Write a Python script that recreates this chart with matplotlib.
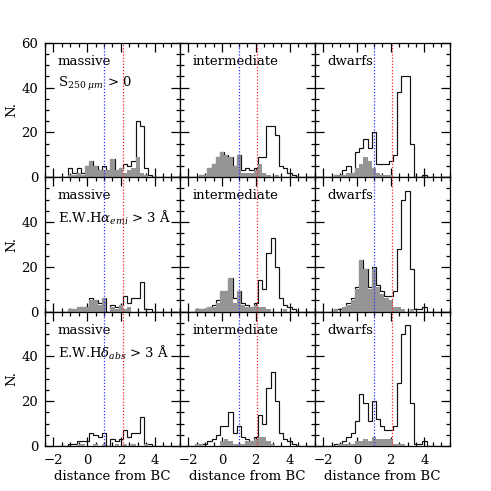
import numpy as np
import matplotlib
matplotlib.use("Agg")
import matplotlib.pyplot as plt
from matplotlib.ticker import MultipleLocator, FixedLocator

plt.rcParams['font.family'] = ['DejaVu Serif']
plt.rcParams['mathtext.fontset'] = 'dejavuserif'

# bin edges: width 0.25, starting at -1.875
bin_start = -1.875
bin_width = 0.25
n_bins = 27

# ---- row 1: S250 > 0 ----
open_mass_s250 = [0, 0, 0, 4, 2, 4, 2, 5, 7, 5, 3, 5, 3, 8, 3, 4, 6, 5, 7, 25, 23, 4, 1, 0, 0, 0, 0]
gray_mass_s250 = [0, 0, 0, 1, 1, 2, 1, 5, 7, 5, 3, 3, 3, 8, 3, 4, 2, 3, 4, 9, 2, 1, 0, 0, 0, 0, 0]
open_int_s250 = [0, 0, 1, 1, 4, 6, 9, 11, 10, 9, 5, 10, 3, 4, 3, 4, 9, 9, 23, 23, 19, 5, 4, 2, 1, 0, 0]
gray_int_s250 = [0, 0, 1, 1, 4, 6, 9, 11, 10, 9, 5, 10, 2, 2, 2, 3, 6, 2, 1, 0, 1, 0, 0, 0, 0, 0, 0]
open_dw_s250 = [0, 0, 1, 1, 3, 5, 2, 11, 13, 17, 13, 20, 6, 6, 6, 7, 10, 38, 45, 45, 15, 0, 0, 1, 0, 0, 0]
gray_dw_s250 = [0, 0, 1, 1, 1, 2, 2, 4, 6, 9, 7, 4, 2, 1, 1, 1, 0, 0, 0, 0, 0, 0, 0, 0, 0, 0, 0]

# ---- rows 2 and 3: full comparison sample (same open histograms) ----
open_mass = [0, 0, 0, 1, 1, 2, 2, 2, 6, 5, 4, 6, 0, 3, 2, 3, 7, 4, 6, 6, 13, 1, 1, 0, 0, 0, 0]
open_int = [0, 1, 1, 1, 2, 3, 5, 9, 9, 15, 6, 9, 4, 3, 2, 4, 14, 10, 26, 33, 20, 6, 3, 2, 1, 0, 0]
open_dw = [0, 0, 1, 1, 2, 4, 6, 11, 23, 19, 11, 20, 12, 9, 7, 7, 9, 28, 50, 54, 19, 1, 1, 2, 0, 0, 0]

# ---- row 2: EW Halpha emission > 3 A ----
gray_mass_ha = [0, 0, 0, 1, 1, 2, 2, 2, 5, 5, 3, 6, 0, 2, 1, 3, 1, 2, 0, 0, 0, 0, 0, 0, 0, 0, 0]
gray_int_ha = [0, 1, 1, 1, 2, 2, 4, 9, 9, 15, 4, 9, 3, 2, 2, 3, 2, 2, 1, 0, 0, 0, 1, 0, 0, 0, 0]
gray_dw_ha = [0, 0, 1, 0, 2, 3, 5, 10, 23, 19, 10, 19, 11, 8, 6, 5, 2, 2, 1, 0, 1, 0, 0, 0, 0, 0, 0]

# ---- row 3: EW Hdelta absorption > 3 A ----
gray_mass_hd = [0, 0, 0, 0, 0, 1, 1, 0, 0, 1, 0, 1, 0, 0, 1, 0, 1, 0, 1, 0, 0, 1, 0, 0, 0, 0, 0]
gray_int_hd = [0, 1, 1, 0, 0, 0, 0, 2, 3, 2, 1, 1, 1, 2, 2, 3, 4, 4, 2, 1, 0, 0, 0, 0, 0, 0, 0]
gray_dw_hd = [0, 0, 0, 1, 1, 1, 1, 2, 2, 3, 2, 4, 3, 3, 3, 3, 1, 1, 1, 0, 0, 0, 0, 0, 0, 0, 0]

col_names = ["massive", "intermediate", "dwarfs"]
row_conditions = [r"S$_{250\ \mu m}$ > 0",
                  r"E.W.H$\alpha_{emi}$ > 3 Å",
                  r"E.W.H$\delta_{abs}$ > 3 Å"]
blue_line = 1.0
red_line = 2.1
xtick_major = [-2, 0, 2, 4]
ytick_major = [0, 20, 40, 60]

open_data = [[open_mass_s250, open_int_s250, open_dw_s250],
             [open_mass, open_int, open_dw],
             [open_mass, open_int, open_dw]]
gray_data = [[gray_mass_s250, gray_int_s250, gray_dw_s250],
             [gray_mass_ha, gray_int_ha, gray_dw_ha],
             [gray_mass_hd, gray_int_hd, gray_dw_hd]]

edges = bin_start + bin_width * np.arange(n_bins + 1)

fig, axes = plt.subplots(3, 3, figsize=(4.91, 4.91), dpi=100)
fig.subplots_adjust(left=0.0916, right=0.916, bottom=0.0917, top=0.913,
                    wspace=0, hspace=0)

for r in range(3):
    for c in range(3):
        ax = axes[r, c]
        ax.stairs(open_data[r][c], edges, color='#111111', lw=0.85, zorder=2)
        ax.stairs(gray_data[r][c], edges, fill=True, color='#959595',
                  lw=0, zorder=3)
        ax.axvline(blue_line, color='#3030ff', ls=(0, (1, 1.5)), lw=0.9, zorder=4)
        ax.axvline(red_line, color='#ff2020', ls=(0, (1, 1.5)), lw=0.9, zorder=4)
        ax.set_xlim(-2.5, 5.5)
        ax.set_ylim(0, 60)
        ax.xaxis.set_major_locator(FixedLocator(xtick_major))
        ax.xaxis.set_minor_locator(MultipleLocator(0.5))
        ax.yaxis.set_major_locator(FixedLocator(ytick_major))
        ax.yaxis.set_minor_locator(MultipleLocator(5))
        ax.tick_params(which='both', direction='in', top=True, right=True,
                       width=0.9, labelsize=9.5)
        ax.tick_params(which='major', length=6.5)
        ax.tick_params(which='minor', length=3.2)
        ax.tick_params(axis='y', pad=5)
        ax.tick_params(axis='x', pad=6)
        for s in ax.spines.values():
            s.set_linewidth(0.9)
        if r < 2:
            ax.tick_params(labelbottom=False)
        else:
            ax.set_xticklabels(['\u22122', '0', '2', '4'])
        if c > 0:
            ax.tick_params(labelleft=False)
        else:
            if r == 0:
                ax.set_yticklabels(['0', '20', '40', '60'])
            else:
                ax.set_yticklabels(['0', '20', '40', ''])
        ax.text(0.095, 0.862, col_names[c], transform=ax.transAxes,
                va='center', ha='left', fontsize=9.5)
        if c == 0:
            ax.text(0.095, 0.695, row_conditions[r], transform=ax.transAxes,
                    va='center', ha='left', fontsize=9.5)

# y labels
for r in range(3):
    pos = axes[r, 0].get_position()
    fig.text(12 / 491, (pos.y0 + pos.y1) / 2, "N.", rotation=90,
             va='center', ha='center', fontsize=9.5)
# x labels
for c in range(3):
    pos = axes[2, c].get_position()
    fig.text((pos.x0 + pos.x1) / 2, 1 - 476 / 491, "distance from BC",
             va='center', ha='center', fontsize=9.5)

fig.savefig("out.png", dpi=100)
